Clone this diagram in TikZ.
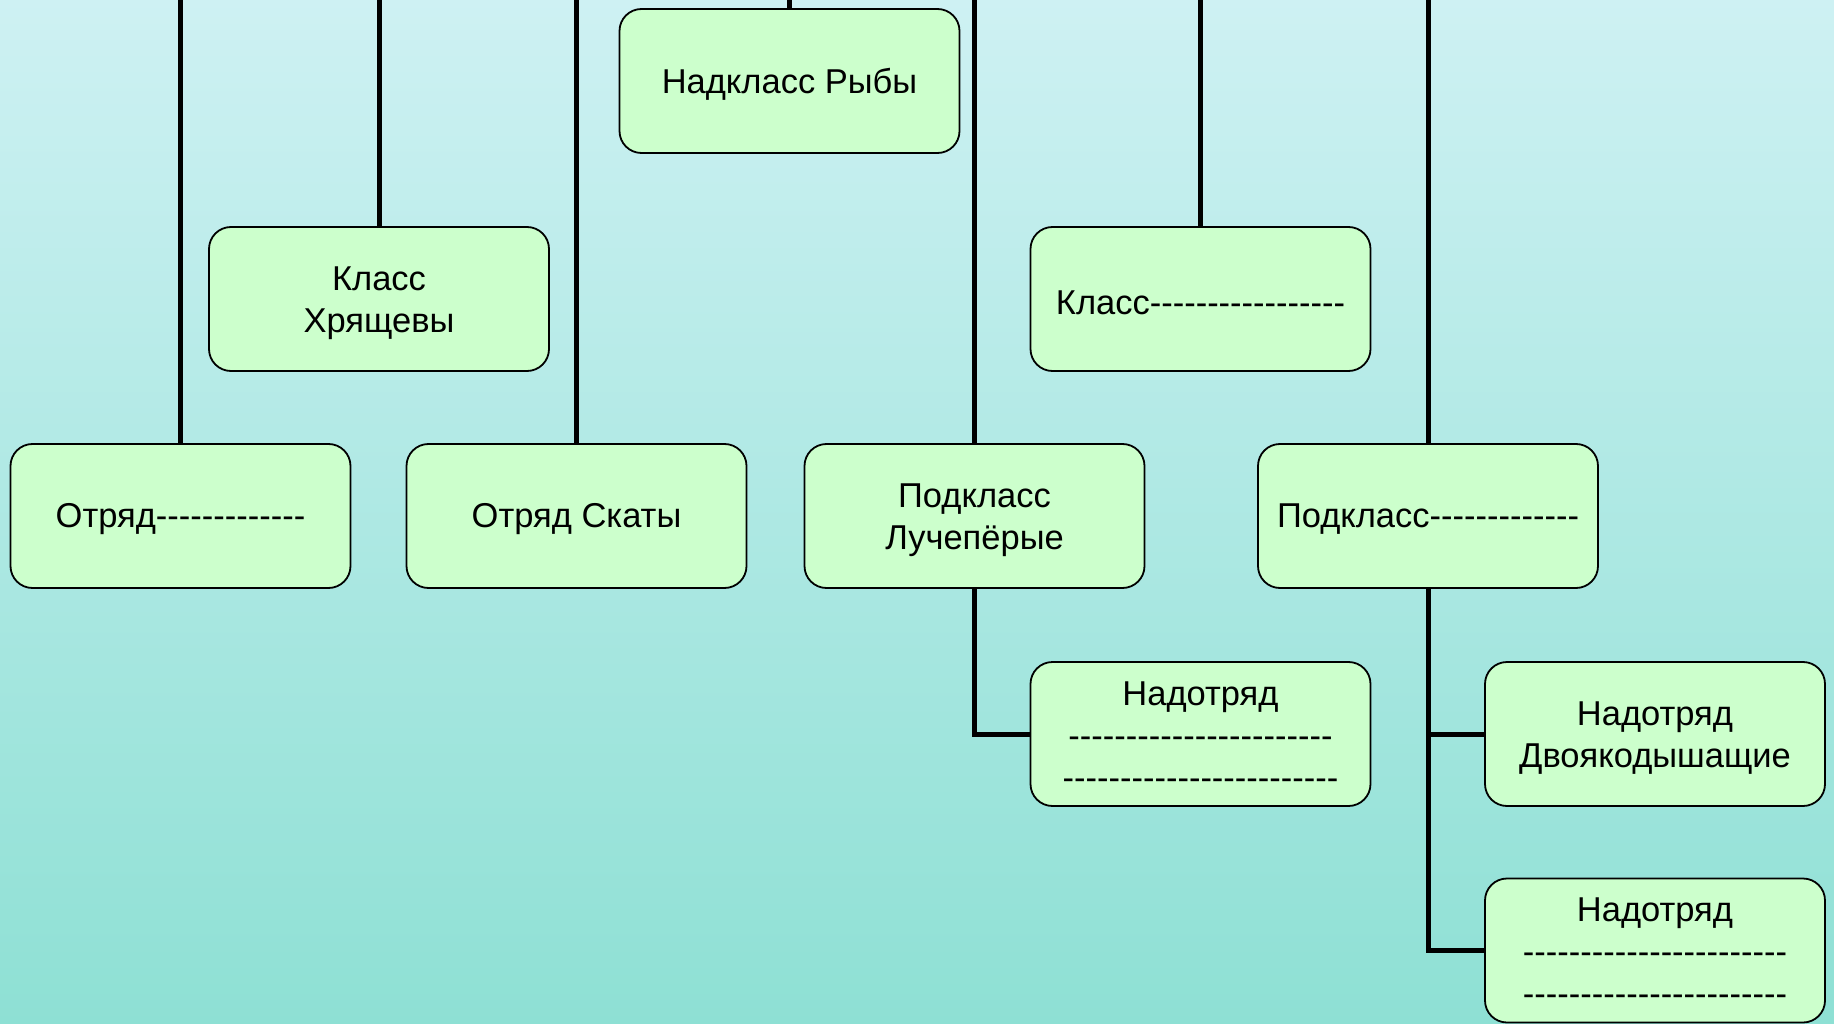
\documentclass[tikz,border=0pt]{standalone}
\usepackage{fontspec}
\setmainfont{Liberation Sans}[Ligatures=TeXOff]
\definecolor{bgtop}{RGB}{206,241,243}
\definecolor{bgbot}{RGB}{142,224,212}
\definecolor{boxfill}{RGB}{204,255,204}
\tikzset{
  taxbox/.style={draw=black, line width=1.8pt, fill=boxfill, rounded corners=22pt,
    minimum width=340pt, minimum height=144pt, inner sep=0pt},
  taxtext/.style={inner sep=0pt, align=center, font=\fontsize{34.5}{42}\selectfont},
  link/.style={draw=black, line width=5pt, line join=miter}
}
\begin{document}
\begin{tikzpicture}[x=1pt,y=-1pt]
\shade[top color=bgtop, bottom color=bgbot] (0,0) rectangle (1834,1024);
\useasboundingbox (0,0) rectangle (1834,1024);
\coordinate (topedge) at (0,0);
\path (789.5,81) coordinate (csuper)
      (379,299) coordinate (cklass1)
      (1200.5,299) coordinate (cklass2)
      (180.5,516) coordinate (cotr1)
      (576.5,516) coordinate (cotr2)
      (974.5,516) coordinate (cpod1)
      (1428,516) coordinate (cpod2)
      (1200.5,734) coordinate (cnad1)
      (1655,734) coordinate (cnad2)
      (1655,950.5) coordinate (cnad3);
\node[taxbox] (super) at (csuper) {};
\node[taxbox] (klass1) at (cklass1) {};
\node[taxbox] (klass2) at (cklass2) {};
\node[taxbox] (otr1) at (cotr1) {};
\node[taxbox] (otr2) at (cotr2) {};
\node[taxbox] (pod1) at (cpod1) {};
\node[taxbox] (pod2) at (cpod2) {};
\node[taxbox] (nad1) at (cnad1) {};
\node[taxbox] (nad2) at (cnad2) {};
\node[taxbox] (nad3) at (cnad3) {};
\node[taxtext] (super-t) at ([yshift=-3.5pt]super.center) {Надкласс Рыбы};
\node[taxtext] (klass1-t) at ([yshift=-4pt]klass1.center) {Класс\\Хрящевы};
\node[taxtext] (klass2-t) at ([yshift=-3.5pt]klass2.center) {Класс-----------------};
\node[taxtext] (otr1-t) at ([yshift=-3.5pt]otr1.center) {Отряд-------------};
\node[taxtext] (otr2-t) at ([yshift=-3.5pt]otr2.center) {Отряд Скаты};
\node[taxtext] (pod1-t) at ([yshift=-4pt]pod1.center) {Подкласс\\Лучепёрые};
\node[taxtext] (pod2-t) at ([yshift=-3.5pt]pod2.center) {Подкласс-------------};
\node[taxtext] (nad1-t) at ([yshift=-1.5pt]nad1.center) {Надотряд\\-----------------------\\------------------------};
\node[taxtext] (nad2-t) at ([yshift=-4pt]nad2.center) {Надотряд\\Двоякодышащие};
\node[taxtext] (nad3-t) at ([yshift=-1.5pt]nad3.center) {Надотряд\\-----------------------\\-----------------------};
% connectors
\draw[link] (super.north) -- (super.north |- topedge);
\draw[link] (klass1.north) -- (klass1.north |- topedge);
\draw[link] (klass2.north) -- (klass2.north |- topedge);
\draw[link] (otr1.north) -- (otr1.north |- topedge);
\draw[link] (otr2.north) -- (otr2.north |- topedge);
\draw[link] (pod1.north) -- (pod1.north |- topedge);
\draw[link] (pod2.north) -- (pod2.north |- topedge);
\draw[link] (pod1.south) |- (nad1.west);
\draw[link] (pod2.south) |- (nad3.west);
\draw[link] (pod2.south |- nad2.west) -- (nad2.west);
\end{tikzpicture}
\end{document}
